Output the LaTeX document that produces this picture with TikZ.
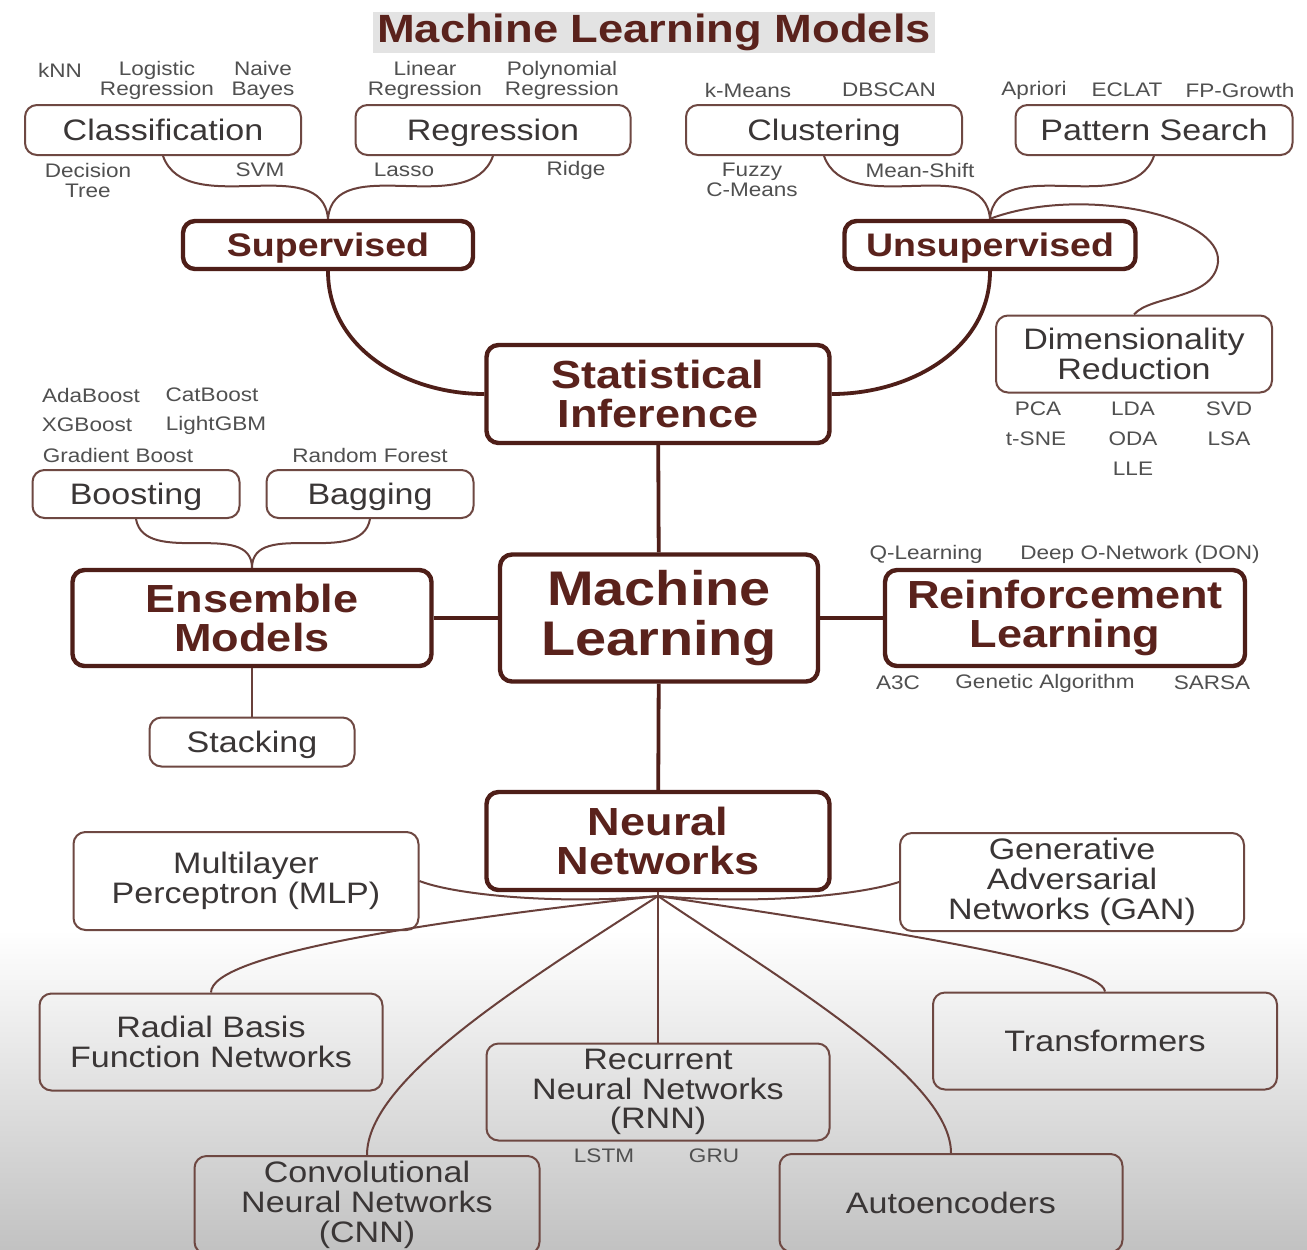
\documentclass[tikz,border=0pt]{standalone}
\usepackage{fontspec}
\setmainfont{Liberation Sans}[FakeStretch=1.15]
\usepackage{tikz}
\usetikzlibrary{positioning,shapes,backgrounds,fit}

\definecolor{mlbrown}{HTML}{4E1E18}
\definecolor{mltext}{HTML}{5A221C}
\definecolor{boxbrown}{HTML}{6E4842}
\definecolor{subtext}{HTML}{3A3636}
\definecolor{lblgray}{HTML}{505050}

\tikzset{
  mainbox/.style={draw=mlbrown, line width=2.2pt, rounded corners=6pt, align=center, inner sep=0pt,
    text=mltext, font=\bfseries\fontsize{19.6}{19.5}\selectfont},
  subbox/.style={draw=boxbrown, line width=1pt, rounded corners=6pt, align=center, inner sep=0pt,
    text=subtext, font=\fontsize{14.8}{14.9}\selectfont},
  oneline/.style={text height=13pt, text depth=3pt},
  lbl/.style={align=center, inner sep=0pt, text=lblgray, font=\fontsize{9.8}{10}\selectfont},
  link/.style={draw=mlbrown, line width=1.9pt},
  twig/.style={draw=mlbrown!85!white, line width=1pt},
}

\begin{document}
\begin{tikzpicture}[x=0.5pt,y=-0.5pt]
\useasboundingbox (0,0) rectangle (1307,1249);
\clip (0,0) rectangle (1307,1249);
\fill[white] (0,0) rectangle (1307,1249);
\shade[top color=white, bottom color=black!24] (0,930) rectangle (1307,1249);

% title
\node[fill=black!11, minimum width=281pt, minimum height=20.5pt, inner sep=0pt, text=mltext,
  font=\bfseries\fontsize{19.7}{22}\selectfont] (title) at (654,32) {Machine Learning Models};

% supervised side
\node[lbl] (knn) at (60,70) {kNN};
\node[lbl] (logr) at (157,80) {Logistic\\Regression};
\node[lbl] (nb) at (263,80) {Naive\\Bayes};
\node[lbl] (linr) at (425,80) {Linear\\Regression};
\node[lbl] (polr) at (562,80) {Polynomial\\Regression};
\node[subbox, oneline, minimum width=138pt, minimum height=25pt] (cls) at (163,130) {Classification};
\node[subbox, oneline, minimum width=137.5pt, minimum height=25pt] (reg) at (493,130) {Regression};
\node[lbl] (dt) at (88,180) {Decision\\Tree};
\node[lbl] (svm) at (260,170) {SVM};
\node[lbl] (lasso) at (404,170) {Lasso};
\node[lbl] (ridge) at (576,170) {Ridge};
\node[mainbox, minimum width=145pt, minimum height=24pt, text height=14.8pt, text depth=3.4pt,
  font=\bfseries\fontsize{16.3}{18}\selectfont] (sup) at (328,245) {Supervised};

% unsupervised side
\node[lbl] (kmeans) at (748,90) {k-Means};
\node[lbl] (dbscan) at (889,90) {DBSCAN};
\node[lbl] (apriori) at (1034,90) {Apriori};
\node[lbl] (eclat) at (1127,90) {ECLAT};
\node[lbl] (fpg) at (1240,90) {FP-Growth};
\node[subbox, oneline, minimum width=138pt, minimum height=25pt] (clu) at (824,130) {Clustering};
\node[subbox, oneline, minimum width=138.5pt, minimum height=25pt] (pat) at (1154,130) {Pattern Search};
\node[lbl] (fcm) at (752,180) {Fuzzy\\C-Means};
\node[lbl] (mshift) at (920,170) {Mean-Shift};
\node[mainbox, minimum width=145.5pt, minimum height=24pt, text height=14.8pt, text depth=3.4pt,
  font=\bfseries\fontsize{16.3}{18}\selectfont] (unsup) at (990,245) {Unsupervised};

\node[subbox, minimum width=138pt, minimum height=38.5pt] (dim) at (1134,354) {Dimensionality\\Reduction};
\node[lbl] (pca) at (1038,409) {PCA};
\node[lbl] (lda) at (1133,409) {LDA};
\node[lbl] (svd) at (1229,409) {SVD};
\node[lbl] (tsne) at (1036,439) {t-SNE};
\node[lbl] (oda) at (1133,439) {ODA};
\node[lbl] (lsa) at (1229,439) {LSA};
\node[lbl] (lle) at (1133,469) {LLE};

\node[mainbox, minimum width=171.5pt, minimum height=49pt] (stat) at (658,394) {Statistical\\Inference};

% ensemble
\node[lbl] (ada) at (91,395) {AdaBoost};
\node[lbl] (cat) at (212,395) {CatBoost};
\node[lbl] (xgb) at (87,425) {XGBoost};
\node[lbl] (lgbm) at (216,425) {LightGBM};
\node[lbl] (gb) at (118,455) {Gradient Boost};
\node[lbl] (rf) at (370,455) {Random Forest};
\node[subbox, oneline, minimum width=103.5pt, minimum height=24pt] (boost) at (136,494) {Boosting};
\node[subbox, oneline, minimum width=103.5pt, minimum height=24pt] (bag) at (370,494) {Bagging};
\node[mainbox, minimum width=179.5pt, minimum height=48pt] (ens) at (252,618) {Ensemble\\Models};
\node[subbox, oneline, minimum width=102.5pt, minimum height=24.5pt] (stack) at (252,742) {Stacking};

% centre
\node[mainbox, minimum width=159pt, minimum height=63.5pt, font=\bfseries\fontsize{24.3}{25}\selectfont] (ml) at (659,618) {Machine\\Learning};

% reinforcement
\node[lbl] (qlearn) at (926,554) {Q-Learning};
\node[lbl] (dqn) at (1140,554) {Deep O-Network (DON)};
\node[mainbox, minimum width=180pt, minimum height=48pt] (rl) at (1065,618) {Reinforcement\\Learning};
\node[lbl] (a3c) at (898,683) {A3C};
\node[lbl] (ga) at (1045,683) {Genetic Algorithm};
\node[lbl] (sarsa) at (1212,683) {SARSA};

% neural networks
\node[mainbox, minimum width=171.5pt, minimum height=49pt] (nn) at (658,841) {Neural\\Networks};
\coordinate (nnj) at (658,896);
\node[subbox, minimum width=172.5pt, minimum height=49pt] (mlp) at (246,881) {Multilayer\\Perceptron (MLP)};
\node[subbox, minimum width=172pt, minimum height=49pt] (gan) at (1072,882) {Generative\\Adversarial\\Networks (GAN)};
\node[subbox, minimum width=171.5pt, minimum height=48.5pt] (rbf) at (211,1042) {Radial Basis\\Function Networks};
\node[subbox, oneline, minimum width=172pt, minimum height=48.5pt] (trans) at (1105,1041) {Transformers};
\node[subbox, minimum width=171.5pt, minimum height=48.5pt] (rnn) at (658,1092) {Recurrent\\Neural Networks\\(RNN)};
\node[lbl] (lstm) at (604,1156) {LSTM};
\node[lbl] (gru) at (714,1156) {GRU};
\node[subbox, minimum width=172.5pt, minimum height=49pt] (cnn) at (367,1205) {Convolutional\\Neural Networks\\(CNN)};
\node[subbox, oneline, minimum width=171.5pt, minimum height=49pt] (aut) at (951,1203) {Autoencoders};

% connectors
\path[link]
(stat) edge (ml)
(ml) edge (nn)
(ens) edge (ml)
(ml) edge (rl);
\draw[link] (sup.south) to[out=-90, in=180] (stat.west);
\draw[link] (unsup.south) to[out=-90, in=0] (stat.east);

\draw[twig] (cls.south) to[out=-70, in=95] (sup.north);
\draw[twig] (reg.south) to[out=-110, in=85] (sup.north);
\draw[twig] (clu.south) to[out=-70, in=95] (unsup.north);
\draw[twig] (pat.south) to[out=-110, in=85] (unsup.north);
\coordinate (dimbend) at (1218,262);
\draw[twig] (unsup.north) .. controls (1080,185) and (1222,215) .. (dimbend)
  .. controls (1214,300) and (1150,295) .. (dim.north);

\draw[twig] (boost.south) to[out=-80, in=90] (ens.north);
\draw[twig] (bag.south) to[out=-100, in=90] (ens.north);
\path[twig] (ens) edge (stack);

\draw[twig] (nn.south) -- (rnn.north);
\draw[twig] (mlp.east) .. controls (455,895) and (560,905) .. (nnj);
\draw[twig] (gan.west) .. controls (860,895) and (760,905) .. (nnj);
\draw[twig] (rbf.north) .. controls (211,955) and (420,922) .. (nnj);
\draw[twig] (trans.north) .. controls (1102,962) and (850,925) .. (nnj);
\draw[twig] (cnn.north) .. controls (367,1080) and (520,985) .. (nnj);
\draw[twig] (aut.north) .. controls (951,1080) and (790,985) .. (nnj);
\end{tikzpicture}
\end{document}
